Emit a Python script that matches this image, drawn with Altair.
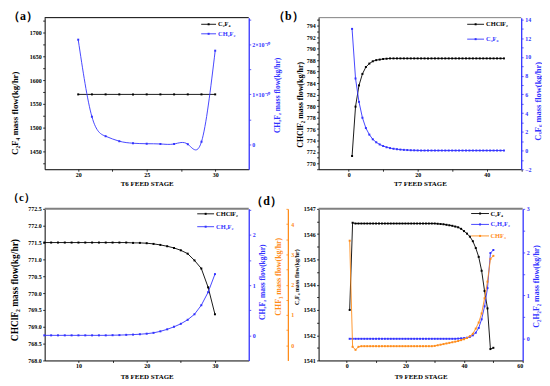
import math
import altair as alt
import pandas as pd

# ---------------- data ----------------
stage_a = list(range(20, 31))
c2f4_a = [1570, 1570, 1570, 1570, 1570, 1570, 1570, 1570, 1570, 1570, 1570]
ch2f2_a = [2.09, 0.55, 0.16, 0.06, 0.02, 0.01, 0.005, 0.005, 0.0, 0.05, 1.87]  # x 1e-10

stage_b = list(range(1, 46))
chclf2_b = [771.3, 779.9, 783.6, 785.6, 786.8, 787.4, 787.8, 788.0, 788.1, 788.2, 788.25] + [788.3] * 34
c3f6_b = [13.0, 7.7, 5.2, 3.5, 2.4, 1.7, 1.2, 0.88, 0.65, 0.48, 0.35, 0.26, 0.19, 0.14, 0.10,
          0.07, 0.05, 0.03, 0.02, 0.01] + [0.0] * 25

stage_c = list(range(5, 31))
chclf2_c = [771.5] * 13 + [771.49, 771.49, 771.48, 771.46, 771.43, 771.39, 771.34, 771.27,
                           771.17, 770.97, 770.73, 770.17, 769.37]
ch2f2_c = [0.0] * 10 + [0.003, 0.005, 0.01, 0.015, 0.022, 0.033, 0.05, 0.08, 0.12, 0.17,
                        0.23, 0.31, 0.42, 0.6, 0.86, 1.22]

stage_d = list(range(1, 51))
c2f4_d = [1543.0, 1546.45] + [1546.42] * 28 + [1546.41, 1546.40, 1546.39, 1546.37, 1546.35,
                                               1546.33, 1546.30, 1546.27, 1546.21, 1546.12,
                                               1546.02, 1545.90, 1545.72, 1545.45, 1545.10,
                                               1544.55, 1543.75, 1543.06, 1541.45, 1541.50]
c2h2f2_d = [0.0] * 37 + [0.005, 0.01, 0.015, 0.025, 0.045, 0.08, 0.14, 0.25, 0.45, 0.75,
                         1.17, 1.98, 2.05]
chf3_d = [3.45, -0.05, -0.15, -0.05] + [-0.03] * 25 + [-0.02, 0.0, 0.02, 0.04, 0.06, 0.08,
                                                      0.10, 0.12, 0.14, 0.17, 0.20, 0.24,
                                                      0.30, 0.38, 0.55, 0.75, 1.05, 1.55,
                                                      2.10, 2.85, 2.95]

df_a = pd.DataFrame({"stage": stage_a, "s1": c2f4_a, "s2": ch2f2_a})
df_b = pd.DataFrame({"stage": stage_b, "s1": chclf2_b, "s2": c3f6_b})
df_c = pd.DataFrame({"stage": stage_c, "s1": chclf2_c, "s2": ch2f2_c})
df_d = pd.DataFrame({"stage": stage_d, "s1": c2f4_d, "s2": c2h2f2_d, "s3": chf3_d})

# ---------------- style ----------------
SERIF = "Liberation Serif"
BLACK = "#000000"
BLUE = "#3333ff"
ORANGE = "#ff8c1a"
GRAY = "#808080"
one = pd.DataFrame({"k": [0]})


def tick_values(dom, step, start=None):
    lo_v = dom[0] if start is None else start
    lo = math.ceil(lo_v / step - 1e-9)
    hi = math.floor(dom[1] / step + 1e-9)
    return [round(i * step, 6) for i in range(lo, hi + 1)]


def tick_props(dom, major, minor, custom="", start=None):
    shown = custom if custom else "datum.label"
    test = f"abs(datum.value / {major} - round(datum.value / {major})) > 0.001"
    return dict(
        values=tick_values(dom, minor, start),
        labelExpr=f"({test}) ? '' : {shown}",
        tickSize=2,
    )


def xenc(dom, major, minor, title, tx, ty):
    return alt.X(
        "stage:Q",
        scale=alt.Scale(domain=dom, nice=False, zero=False),
        axis=alt.Axis(
            format="d", title=title, grid=False, labelOverlap=False,
            domainColor=BLACK, domainWidth=1, tickColor=BLACK, tickWidth=0.8,
            labelFont=SERIF, labelFontSize=6, labelFontWeight="bold", labelColor=BLACK,
            labelPadding=0.5,
            titleFont=SERIF, titleFontSize=7, titleFontWeight="bold", titleColor=BLACK,
            titleX=tx, titleY=ty, titleAlign="center", titleBaseline="middle", titleAngle=0,
            **tick_props(dom, major, minor),
        ),
    )


def yenc(field, dom, major, minor, fmt, title, color, orient, tx, ty, tsize,
         offset=0, custom="", label_align="", label_pad=1.5, start=None):
    kw = dict(
        orient=orient, format=fmt, title=title, grid=False, labelOverlap=False,
        domainColor=color, domainWidth=1 if color == BLACK else 1.3,
        tickColor=color, tickWidth=0.8,
        labelFont=SERIF, labelFontSize=6, labelFontWeight="bold", labelColor=color,
        labelPadding=label_pad,
        titleFont=SERIF, titleFontSize=tsize, titleFontWeight="bold", titleColor=color,
        titleX=tx, titleY=ty, titleAngle=270, titleAlign="center", titleBaseline="middle",
        **tick_props(dom, major, minor, custom, start),
    )
    if offset:
        kw["offset"] = offset
    if label_align:
        kw["labelAlign"] = label_align
    return alt.Y(f"{field}:Q", scale=alt.Scale(domain=dom, nice=False, zero=False),
                 axis=alt.Axis(**kw))


def series(df, xe, ye, color, interp="linear"):
    return alt.Chart(df).mark_line(
        color=color, strokeWidth=0.9, interpolate=interp,
        point=alt.OverlayMarkDef(shape="square", size=4, filled=True, color=color, opacity=1),
    ).encode(x=xe, y=ye)


def legend(items, x0, x1, tx, fs=6.5):
    layers = []
    for txt, color, y in items:
        layers.append(alt.Chart(one).mark_rule(color=color, strokeWidth=0.9).encode(
            x=alt.value(x0), x2=alt.value(x1), y=alt.value(y)))
        layers.append(alt.Chart(one).mark_point(shape="square", size=4, filled=True,
                                                color=color, opacity=1).encode(
            x=alt.value((x0 + x1) / 2), y=alt.value(y)))
        layers.append(alt.Chart(one).mark_text(text=txt, align="left", baseline="middle",
                                               font=SERIF, fontSize=fs, fontWeight="bold",
                                               color=color).encode(
            x=alt.value(tx), y=alt.value(y)))
    return layers


def plabel(txt, x, y, fs=12):
    return alt.Chart(one).mark_text(text=txt, align="left", baseline="middle", font=SERIF,
                                    fontSize=fs, fontWeight="bold", color=BLACK).encode(
        x=alt.value(x), y=alt.value(y))


def toprule(w, color, sw):
    return alt.Chart(one).mark_rule(color=color, strokeWidth=sw).encode(
        x=alt.value(0), x2=alt.value(w), y=alt.value(0))


H = 153

# ---- panel (a) ----
WA = 206
xa = xenc([17.55, 32.45], 5, 2.5, "T6  FEED STAGE", WA / 2, 14.7)
pa = alt.layer(
    series(df_a, xa, yenc("s1", [1412, 1732], 50, 25, "d",
                          "C₂F₄ mass flow(kg/hr)", BLACK, "left", -30, 96, 9), BLACK),
    series(df_a, xa, yenc("s2", [-0.5, 2.53], 1, 0.5, "~g", "CH₂F₂ mass flow(kg/hr)",
                          BLUE, "right", 29.5, 78, 7.5,
                          custom="(datum.value == 0 ? '0' : datum.label + '×10⁻¹⁰')",
                          label_pad=1, start=0), BLUE, "natural"),
    *legend([("C₂F₄", BLACK, 6.7), ("CH₂F₂", BLUE, 16.3)], 158, 173, 175),
    plabel("（a）", -37, -2),
    toprule(WA, BLACK, 1),
).resolve_scale(y="independent").properties(width=WA, height=H)

# ---- panel (b) ----
WB = 204.5
xb = xenc([-8.7, 50], 20, 10, "T7  FEED STAGE", WB / 2, 14.7)
pb = alt.layer(
    series(df_b, xb, yenc("s1", [769, 795.4], 2, 1, "d",
                          "CHClF₂ mass flow(kg/hr)", BLACK, "left", -18.5, 87.5, 8), BLACK),
    series(df_b, xb, yenc("s2", [-2, 14.2], 2, 1, "d",
                          "C₃F₆ mass flow(kg/hr)", BLUE, "right", 16, 84, 8.5), BLUE),
    *legend([("CHClF₂", BLACK, 6.7), ("C₃F₆", BLUE, 21.7)], 150, 167, 169),
    plabel("（b）", -46, -2),
    toprule(WB, GRAY, 1),
).resolve_scale(y="independent").properties(width=WB, height=H)

# ---- panel (c) ----
WC = 206
xc = xenc([5.05, 34.95], 10, 5, "T8  FEED STAGE", WC / 2, 16)
pc = alt.layer(
    series(df_c, xc, yenc("s1", [768, 772.5], 0.5, 0.5, ".1f",
                          "CHClF₂ mass flow(kg/hr)", BLACK, "left", -30, 81.5, 9.5), BLACK),
    series(df_c, xc, yenc("s2", [-0.5, 2.52], 1, 0.5, "~g", "CH₂F₂ mass flow(kg/hr)",
                          BLUE, "right", 13.6, 73.6, 7.5, start=0), BLUE),
    *legend([("CHClF₂", BLACK, 5), ("CH₂F₂", BLUE, 18)], 154, 171, 173),
    plabel("（c）", -37, -11, 11),
    toprule(WC, GRAY, 2),
).resolve_scale(y="independent").properties(width=WC, height=H)

# ---- panel (d) ----
WD = 206
xd = xenc([-9.6, 60], 20, 10, "T9  FEED STAGE", WD / 2, 16)
pd_ = alt.layer(
    series(df_d, xd, yenc("s1", [1541, 1547], 1, 0.5, "~g",
                          "C₂F₄ mass flow(kg/hr)", BLACK, "left", -22, 68.5, 6), BLACK),
    series(df_d, xd, yenc("s2", [-0.5, 3], 1, 0.5, "~g", "C₂H₂F₂ mass flow(kg/hr)",
                          BLUE, "right", 14.3, 77.7, 8, start=0), BLUE),
    series(df_d, xd, yenc("s3", [-0.5, 4.5], 1, 0.5, "~g",
                          "CHF₃ mass flow(kg/hr)", ORANGE, "left", -9, 68, 8, offset=31,
                          label_align="left", label_pad=-5, start=0), ORANGE),
    *legend([("C₂F₄", BLACK, 4.7), ("C₂H₂F₂", BLUE, 15.7), ("CHF₃", ORANGE, 27.3)],
            154, 172, 173.5),
    plabel("（d）", -68, -8),
    toprule(WD, GRAY, 2),
).resolve_scale(y="independent").properties(width=WD, height=H)

chart = alt.concat(
    pa, pb, pc, pd_, columns=2, spacing={"row": 40, "column": 70.5}, bounds="flush"
).properties(padding=0, background="white").configure_view(strokeWidth=0)

chart.save("out.html", embed_options={"renderer": "svg", "actions": False})
